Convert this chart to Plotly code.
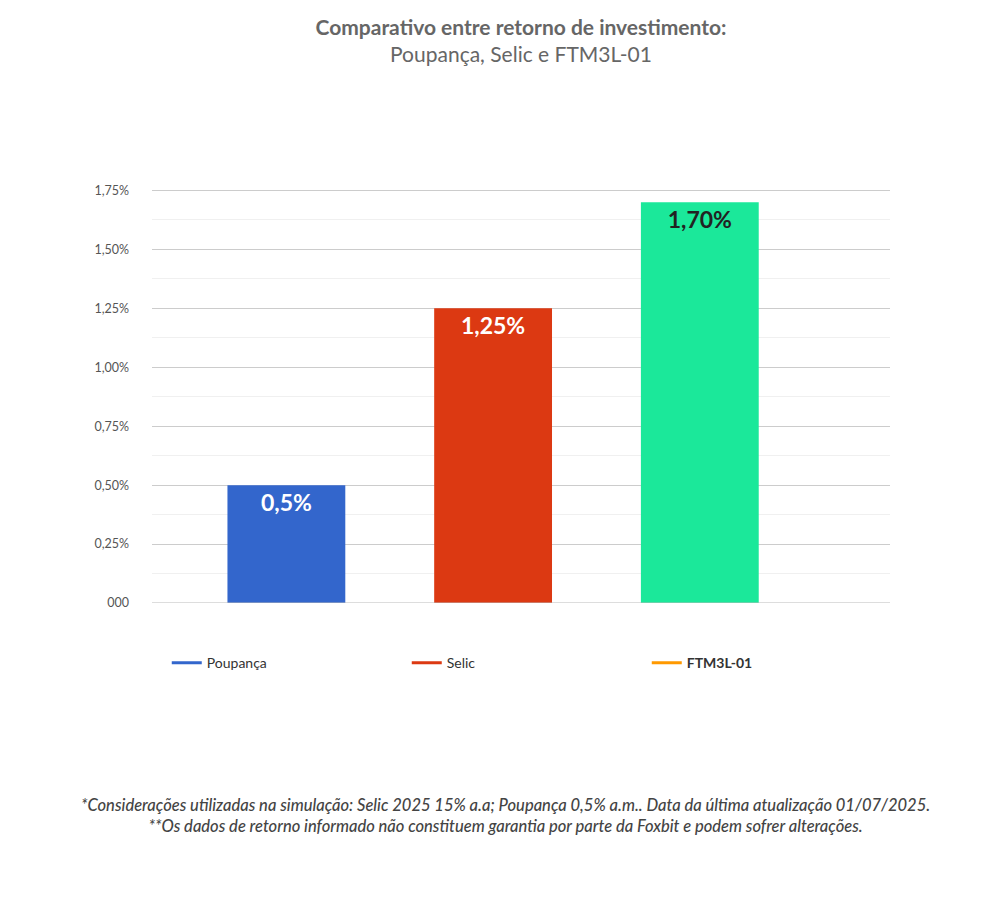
import plotly.graph_objects as go

categories = ["Poupança", "Selic", "FTM3L-01"]
values = [0.5, 1.25, 1.70]
bar_labels = ["0,5%", "1,25%", "1,70%"]
bar_colors = ["#3366CC", "#DC3912", "#1BE89A"]
label_colors = ["white", "white", "#222222"]
legend_names = ["Poupança", "Selic", "<b>FTM3L-01</b>"]
legend_colors = ["#3366CC", "#DC3912", "#FF9900"]
tick_vals = [0, 0.25, 0.5, 0.75, 1.0, 1.25, 1.5, 1.75]
tick_text = ["000", "0,25%", "0,50%", "0,75%", "1,00%", "1,25%", "1,50%", "1,75%"]

fig = go.Figure()
fig.add_trace(go.Bar(
    x=[0, 1, 2], y=values, width=0.57,
    marker=dict(color=bar_colors, line=dict(width=0)),
    text=bar_labels, textposition="inside", insidetextanchor="end",
    textfont=dict(family="Lato", size=23, color=label_colors, weight="bold"),
    showlegend=False, hoverinfo="skip",
))
# legend-only line entries
for name, col in zip(legend_names, legend_colors):
    fig.add_trace(go.Scatter(
        x=[None], y=[None], mode="lines", name=name,
        line=dict(color=col, width=3),
    ))

fig.update_layout(
    width=995, height=906,
    paper_bgcolor="white", plot_bgcolor="white",
    margin=dict(l=144, r=113, t=153, b=311),
    font=dict(family="Lato", color="#444444"),
    title=dict(
        text="<b>Comparativo entre retorno de investimento:</b><br>Poupança, Selic e FTM3L-01",
        x=0.5, xanchor="center", xref="paper", y=0.97, yanchor="top",
        font=dict(size=21, color="#666666"),
    ),
    xaxis=dict(range=[-0.65, 2.92], showticklabels=False, showgrid=False,
               zeroline=False, fixedrange=True),
    yaxis=dict(range=[0, 1.875], tickvals=tick_vals, ticktext=tick_text,
               tickfont=dict(size=12.5, color="#555555"), ticks="",
               showgrid=True, gridcolor="#CCCCCC", gridwidth=1,
               minor=dict(dtick=0.125, showgrid=True, gridcolor="#F0F0F0"),
               zeroline=False, ticklabelstandoff=22,
               showline=False),
    legend=dict(orientation="h", x=0.02, xanchor="left", y=-0.1, yanchor="top",
                entrywidth=195, entrywidthmode="pixels",
                font=dict(size=14, color="#333333")),
    shapes=[dict(type="line", xref="paper", yref="y", x0=0, x1=1, y0=0, y1=0,
                 line=dict(color="#BBBBBB", width=1))],
    annotations=[dict(
        text="<i>*Considerações utilizadas na simulação: Selic 2025 15% a.a; Poupança 0,5% a.m.. Data da última atualização 01/07/2025.<br>**Os dados de retorno informado não constituem garantia por parte da Foxbit e podem sofrer alterações.</i>",
        xref="paper", yref="paper", x=(497 - 144) / 738, y=-0.43,
        xanchor="center", yanchor="top", showarrow=False,
        font=dict(size=16.5, color="#444444", weight=500), align="center",
    )],
)

fig.write_html("out.html")
